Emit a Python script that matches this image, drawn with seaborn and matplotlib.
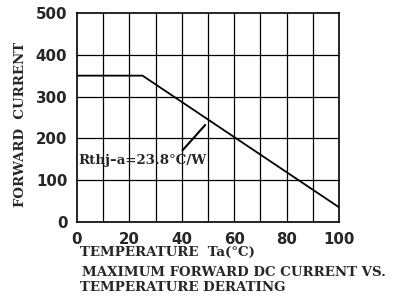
import matplotlib
matplotlib.use("Agg")
import matplotlib.pyplot as plt
import seaborn as sns
import pandas as pd
import numpy as np

# Derating curve
temperature = [0, 25, 100]
forward_current = [350, 350, 35]
x_ticks = [0, 20, 40, 60, 80, 100]
y_ticks = [0, 100, 200, 300, 400, 500]

sns.set_style("white")
plt.rcParams["font.family"] = ["DejaVu Sans"]

df = pd.DataFrame({"Ta": temperature, "If": forward_current})

fig = plt.figure(figsize=(3.96, 3.07), dpi=100)
ax = fig.add_axes([0.1944, 0.2769, 0.662, 0.681])

# grid: every 10 degC, every 100 mA
for xv in np.arange(10, 100, 10):
    ax.axvline(xv, color="black", lw=0.9, zorder=1)
for yv in [100, 200, 300, 400]:
    ax.axhline(yv, color="black", lw=0.9, zorder=1)

sns.lineplot(data=df, x="Ta", y="If", color="black", lw=1.3, ax=ax, zorder=3)

ax.set_xlim(0, 100)
ax.set_ylim(0, 500)
ax.set_xticks(x_ticks)
ax.set_yticks(y_ticks)
ax.set_xticklabels([str(v) for v in x_ticks], fontsize=10.8, fontweight="bold")
ax.set_yticklabels([str(v) for v in y_ticks], fontsize=10.8, fontweight="bold")
ax.tick_params(length=0, pad=7)
ax.set_xlabel("")
ax.set_ylabel("")
for s in ax.spines.values():
    s.set_color("black")
    s.set_linewidth(1.2)

serif = dict(family="DejaVu Serif", fontweight="bold", fontsize=9.6)

# annotation with leader line
ax.annotate("Rthj\u2013a=23.8\u00b0C/W", xy=(48.9, 232), xytext=(0.5, 148),
            ha="left", va="center", **serif,
            arrowprops=dict(arrowstyle="-", color="black", lw=1.5,
                            shrinkA=0, shrinkB=0, relpos=(0.79, 1.0)))

fig.text(0.052, 0.596, "FORWARD  CURRENT", rotation=90, ha="center", va="center", **serif)
fig.text(0.202, 0.179, "TEMPERATURE  Ta(\u00b0C)", ha="left", va="center", **serif)
fig.text(0.207, 0.114, "MAXIMUM FORWARD DC CURRENT VS.", ha="left", va="center", **serif)
fig.text(0.202, 0.065, "TEMPERATURE DERATING", ha="left", va="center", **serif)

fig.savefig("out.png", dpi=100)
